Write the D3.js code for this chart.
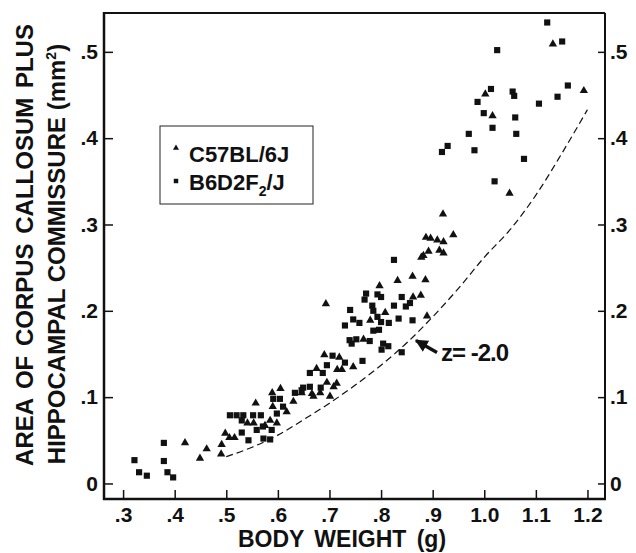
<!DOCTYPE html>
<html>
<head>
<meta charset="utf-8">
<script src="https://cdn.jsdelivr.net/npm/d3@7"></script>
<style>
  body { margin: 0; background: #fff; }
  svg text { font-family: "Liberation Sans", Arial, Helvetica, sans-serif; font-weight: bold; fill: #111; }
</style>
</head>
<body>
<div id="chart"></div>
<script>
// C57BL/6J (triangles): [body weight g, area mm2]
const c57Points = [
  [0.420,0.047],[0.449,0.029],[0.462,0.040],[0.490,0.034],[0.491,0.045],[0.498,0.058],
  [0.506,0.053],[0.516,0.053],[0.541,0.070],[0.553,0.070],[0.557,0.093],[0.575,0.067],
  [0.585,0.073],[0.598,0.070],[0.589,0.105],[0.605,0.110],[0.590,0.089],[0.617,0.083],
  [0.630,0.095],[0.646,0.105],[0.666,0.104],[0.669,0.101],[0.682,0.105],[0.701,0.101],
  [0.675,0.133],[0.690,0.149],[0.719,0.146],[0.715,0.132],[0.724,0.132],[0.746,0.135],
  [0.695,0.117],[0.714,0.116],[0.708,0.112],[0.693,0.208],[0.808,0.198],[0.779,0.189],
  [0.766,0.167],[0.797,0.229],[0.832,0.235],[0.861,0.240],[0.886,0.236],[0.862,0.216],
  [0.877,0.218],[0.889,0.194],[0.878,0.262],[0.882,0.264],[0.892,0.269],[0.913,0.270],
  [0.921,0.267],[0.887,0.285],[0.896,0.284],[0.909,0.282],[0.921,0.280],[0.940,0.288],
  [0.920,0.312],[1.049,0.336],[1.002,0.451],[1.016,0.426],[1.133,0.509],[1.193,0.455]
];

// B6D2F2/J (squares)
const b6d2Points = [
  [0.322,0.027],[0.331,0.013],[0.346,0.009],[0.379,0.047],[0.379,0.026],[0.386,0.013],
  [0.397,0.007],[0.507,0.079],[0.520,0.079],[0.533,0.079],[0.552,0.079],[0.567,0.079],
  [0.530,0.073],[0.530,0.059],[0.543,0.050],[0.559,0.062],[0.571,0.066],[0.572,0.052],
  [0.585,0.051],[0.588,0.062],[0.591,0.098],[0.604,0.098],[0.610,0.089],[0.598,0.081],
  [0.633,0.105],[0.646,0.108],[0.649,0.111],[0.662,0.112],[0.662,0.128],[0.683,0.111],
  [0.687,0.128],[0.695,0.137],[0.706,0.148],[0.730,0.140],[0.764,0.142],[0.771,0.220],
  [0.768,0.213],[0.793,0.219],[0.800,0.216],[0.840,0.216],[0.740,0.201],[0.783,0.206],
  [0.785,0.200],[0.825,0.206],[0.848,0.205],[0.856,0.209],[0.746,0.190],[0.758,0.186],
  [0.730,0.183],[0.793,0.193],[0.800,0.187],[0.815,0.186],[0.834,0.191],[0.861,0.189],
  [0.785,0.177],[0.796,0.178],[0.739,0.166],[0.743,0.162],[0.752,0.167],[0.778,0.165],
  [0.804,0.162],[0.814,0.159],[0.801,0.155],[0.840,0.152],[0.825,0.259],
  [1.122,0.534],[1.151,0.512],[1.025,0.502],[1.013,0.457],[1.055,0.454],[1.058,0.449],
  [0.987,0.442],[1.162,0.461],[1.142,0.448],[1.106,0.440],[0.999,0.429],[1.060,0.424],
  [1.016,0.412],[1.062,0.405],[0.970,0.405],[0.929,0.391],[0.918,0.384],[0.981,0.386],
  [1.077,0.376],[1.020,0.350]
];

// z = -2.0 reference curve (dashed)
const curvePoints = [
  [0.50,0.031],[0.55,0.042],[0.60,0.056],[0.65,0.074],[0.70,0.093],[0.75,0.114],
  [0.80,0.137],[0.85,0.163],[0.90,0.193],[0.95,0.226],[1.00,0.262],[1.05,0.294],
  [1.10,0.334],[1.15,0.382],[1.20,0.433]
];

const xTicks = [0.3,0.4,0.5,0.6,0.7,0.8,0.9,1.0,1.1,1.2];
const yTicks = [0,0.1,0.2,0.3,0.4,0.5];

const W = 636, H = 553;
const margin = { top: 13, right: 31, bottom: 54, left: 104 };

const svg = d3.select("#chart").append("svg")
  .attr("width", W).attr("height", H);

const x = d3.scaleLinear().domain([0.263, 1.234]).range([margin.left, W - margin.right]);
const y = d3.scaleLinear().domain([-0.018, 0.545]).range([H - margin.bottom, margin.top]);

const fmtX = v => v < 1 ? d3.format(".1f")(v).replace(/^0/, "") : d3.format(".1f")(v);
const fmtY = v => v === 0 ? "0" : d3.format(".1f")(v).replace(/^0/, "");

// axes, ticks pointing inward
const axisStyle = g => {
  g.select(".domain").remove();
  g.selectAll(".tick line").attr("stroke", "#111").attr("stroke-width", 1.5);
  g.selectAll(".tick text").style("font-size", "21px").attr("fill", "#111");
};

svg.append("g")
  .attr("transform", `translate(${x.range()[0]},0)`)
  .call(d3.axisLeft(y).tickValues(yTicks).tickFormat(fmtY).tickSize(-9).tickPadding(6))
  .call(axisStyle);

svg.append("g")
  .attr("transform", `translate(${x.range()[1]},0)`)
  .call(d3.axisRight(y).tickValues(yTicks).tickFormat(fmtY).tickSize(-7).tickPadding(5))
  .call(axisStyle);

svg.append("g")
  .attr("transform", `translate(0,${y.range()[0]})`)
  .call(d3.axisBottom(x).tickValues(xTicks).tickFormat(fmtX).tickSize(-9).tickPadding(8))
  .call(axisStyle);

// frame
const [x0, x1] = x.range(), [y0, y1] = y.range();
svg.append("line").attr("x1", x0).attr("x2", x0).attr("y1", y1 - 1).attr("y2", y0 + 1)
  .attr("stroke", "#111").attr("stroke-width", 2.5);
svg.append("line").attr("x1", x0 - 1).attr("x2", x1 + 1).attr("y1", y0).attr("y2", y0)
  .attr("stroke", "#111").attr("stroke-width", 2.5);
svg.append("line").attr("x1", x1).attr("x2", x1).attr("y1", y1).attr("y2", y0)
  .attr("stroke", "#111").attr("stroke-width", 2);
svg.append("line").attr("x1", x0).attr("x2", x1).attr("y1", y1).attr("y2", y1)
  .attr("stroke", "#111").attr("stroke-width", 2);

// dashed curve
svg.append("path")
  .datum(curvePoints)
  .attr("fill", "none")
  .attr("stroke", "#111")
  .attr("stroke-width", 1.2)
  .attr("stroke-dasharray", "7,4")
  .attr("d", d3.line().x(d => x(d[0])).y(d => y(d[1])).curve(d3.curveMonotoneX));

// points
const tri = d3.symbol().type(d3.symbolTriangle).size(30);
const sq = d3.symbol().type(d3.symbolSquare).size(38);

svg.append("g").selectAll("path")
  .data(c57Points)
  .enter().append("path")
  .attr("d", tri)
  .attr("transform", d => `translate(${x(d[0])},${y(d[1])})`)
  .attr("fill", "#111");

svg.append("g").selectAll("path")
  .data(b6d2Points)
  .enter().append("path")
  .attr("d", sq)
  .attr("transform", d => `translate(${x(d[0])},${y(d[1])})`)
  .attr("fill", "#111");

// legend
const legend = svg.append("g");
legend.append("rect")
  .attr("x", 160).attr("y", 126).attr("width", 153).attr("height", 78)
  .attr("fill", "#fff").attr("stroke", "#222").attr("stroke-width", 1);
legend.append("path").attr("d", d3.symbol().type(d3.symbolTriangle).size(16))
  .attr("transform", "translate(176,148)").attr("fill", "#111");
legend.append("path").attr("d", d3.symbol().type(d3.symbolSquare).size(20))
  .attr("transform", "translate(176,181)").attr("fill", "#111");
legend.append("text").attr("x", 189).attr("y", 162).style("font-size", "22px").text("C57BL/6J");
const t2 = legend.append("text").attr("x", 189).attr("y", 190).style("font-size", "22px");
t2.append("tspan").text("B6D2F");
t2.append("tspan").attr("dy", 6).style("font-size", "14px").text("2");
t2.append("tspan").attr("dy", -6).text("/J");

// axis titles
svg.append("text")
  .attr("x", 342).attr("y", 547)
  .attr("text-anchor", "middle")
  .style("font-size", "23px")
  .style("word-spacing", "4px")
  .text("BODY WEIGHT (g)");

svg.append("text")
  .attr("transform", "translate(33,245) rotate(-90)")
  .attr("text-anchor", "middle")
  .style("font-size", "24px")
  .style("word-spacing", "3px")
  .text("AREA OF CORPUS CALLOSUM PLUS");

const yt2 = svg.append("text")
  .attr("transform", "translate(65,254) rotate(-90)")
  .attr("text-anchor", "middle")
  .style("font-size", "24px");
yt2.append("tspan").text("HIPPOCAMPAL COMMISSURE (mm");
yt2.append("tspan").attr("dy", -9).style("font-size", "14px").text("2");
yt2.append("tspan").attr("dy", 9).text(")");

// annotation
svg.append("defs").append("marker")
  .attr("id", "arrowHead")
  .attr("viewBox", "0 0 10 10")
  .attr("refX", 9).attr("refY", 5)
  .attr("markerWidth", 4).attr("markerHeight", 4)
  .attr("orient", "auto")
  .append("path").attr("d", "M0,0 L10,5 L0,10 Z").attr("fill", "#111");

svg.append("line")
  .attr("x1", 437).attr("y1", 352.5)
  .attr("x2", 416).attr("y2", 340.5)
  .attr("stroke", "#111").attr("stroke-width", 3.2)
  .attr("marker-end", "url(#arrowHead)");

svg.append("text")
  .attr("x", 441).attr("y", 361)
  .style("font-size", "24px")
  .style("letter-spacing", "-1px")
  .text("z= -2.0");
</script>
</body>
</html>
